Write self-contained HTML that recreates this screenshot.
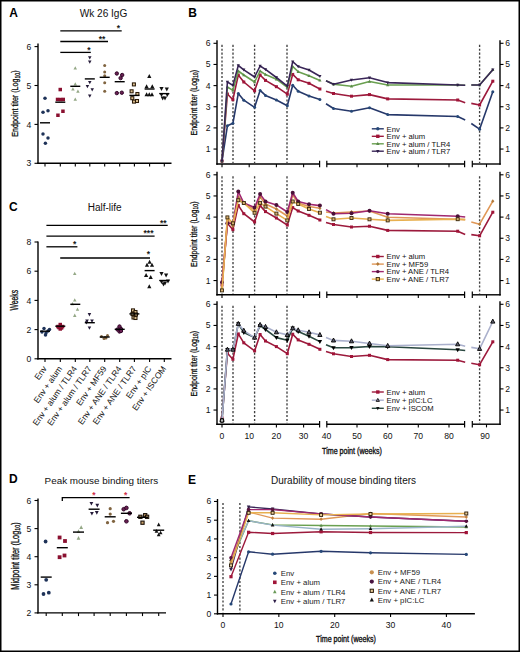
<!DOCTYPE html><html><head><meta charset="utf-8"><style>html,body{margin:0;padding:0;background:#fff;overflow:hidden;}svg{display:block;}text{font-family:"Liberation Sans",sans-serif;}</style></head><body>
<svg width="520" height="652" viewBox="0 0 520 652">
<rect x="0" y="0" width="520" height="652" fill="#fff"/>
<rect x="0.75" y="0.75" width="518.5" height="650.5" fill="none" stroke="#000" stroke-width="1.5"/>
<text x="9.3" y="16.8" font-size="12" text-anchor="start" font-weight="bold" fill="#000" >A</text>
<text x="103.5" y="17.2" font-size="10.1" text-anchor="middle" font-weight="normal" fill="#111" >Wk 26 IgG</text>
<line x1="38" y1="43.5" x2="38" y2="164.0" stroke="#000" stroke-width="1.4"/>
<line x1="37.3" y1="163.3" x2="171.5" y2="163.3" stroke="#000" stroke-width="1.4"/>
<line x1="34.5" y1="163.3" x2="38" y2="163.3" stroke="#000" stroke-width="1.1"/>
<text x="31.4" y="166.4" font-size="8.6" text-anchor="end" font-weight="normal" fill="#111" >3</text>
<line x1="34.5" y1="124.4" x2="38" y2="124.4" stroke="#000" stroke-width="1.1"/>
<text x="31.4" y="127.5" font-size="8.6" text-anchor="end" font-weight="normal" fill="#111" >4</text>
<line x1="34.5" y1="85.50000000000001" x2="38" y2="85.50000000000001" stroke="#000" stroke-width="1.1"/>
<text x="31.4" y="88.60000000000001" font-size="8.6" text-anchor="end" font-weight="normal" fill="#111" >5</text>
<line x1="34.5" y1="46.60000000000002" x2="38" y2="46.60000000000002" stroke="#000" stroke-width="1.1"/>
<text x="31.4" y="49.700000000000024" font-size="8.6" text-anchor="end" font-weight="normal" fill="#111" >6</text>
<line x1="45" y1="163.3" x2="45" y2="166.5" stroke="#000" stroke-width="1.1"/>
<line x1="60.3" y1="163.3" x2="60.3" y2="166.5" stroke="#000" stroke-width="1.1"/>
<line x1="75.3" y1="163.3" x2="75.3" y2="166.5" stroke="#000" stroke-width="1.1"/>
<line x1="89.8" y1="163.3" x2="89.8" y2="166.5" stroke="#000" stroke-width="1.1"/>
<line x1="104.7" y1="163.3" x2="104.7" y2="166.5" stroke="#000" stroke-width="1.1"/>
<line x1="119.7" y1="163.3" x2="119.7" y2="166.5" stroke="#000" stroke-width="1.1"/>
<line x1="134.4" y1="163.3" x2="134.4" y2="166.5" stroke="#000" stroke-width="1.1"/>
<line x1="149.6" y1="163.3" x2="149.6" y2="166.5" stroke="#000" stroke-width="1.1"/>
<line x1="164.3" y1="163.3" x2="164.3" y2="166.5" stroke="#000" stroke-width="1.1"/>
<text transform="translate(18.4,103.5) rotate(-90) scale(0.75,1)" font-size="9.5" text-anchor="middle" fill="#111" stroke="#111" stroke-width="0.3">Endpoint titer (Log<tspan font-size="7" dy="1.7">10</tspan><tspan dy="-1.7">)</tspan></text>
<line x1="60.3" y1="30.8" x2="121.7" y2="30.8" stroke="#000" stroke-width="1.3"/>
<text x="118.5" y="31" font-size="8.5" text-anchor="middle" font-weight="bold" fill="#1a1a1a" >*</text>
<line x1="60.3" y1="41.5" x2="108" y2="41.5" stroke="#000" stroke-width="1.3"/>
<text x="102" y="41.8" font-size="8.5" text-anchor="middle" font-weight="bold" fill="#1a1a1a" >**</text>
<line x1="60.3" y1="52.4" x2="90.8" y2="52.4" stroke="#000" stroke-width="1.3"/>
<text x="89" y="52.6" font-size="8.5" text-anchor="middle" font-weight="bold" fill="#1a1a1a" >*</text>
<circle cx="45.0" cy="98.2" r="1.75" fill="#1e3258"/>
<circle cx="43.0" cy="112.2" r="1.75" fill="#1e3258"/>
<circle cx="48.0" cy="110.8" r="1.75" fill="#1e3258"/>
<circle cx="43.0" cy="134.1" r="1.75" fill="#1e3258"/>
<circle cx="48.0" cy="138.1" r="1.75" fill="#1e3258"/>
<circle cx="45.4" cy="143.3" r="1.75" fill="#1e3258"/>
<line x1="40" y1="122.8" x2="50" y2="122.8" stroke="#000" stroke-width="1.4"/>
<rect x="58.5" y="87.8" width="3.5" height="3.5" fill="#8a1030"/>
<rect x="55.8" y="97.7" width="3.5" height="3.5" fill="#8a1030"/>
<rect x="58.8" y="97.8" width="3.5" height="3.5" fill="#8a1030"/>
<rect x="61.5" y="97.7" width="3.5" height="3.5" fill="#8a1030"/>
<rect x="56.2" y="113.5" width="3.5" height="3.5" fill="#8a1030"/>
<rect x="61.2" y="109.5" width="3.5" height="3.5" fill="#8a1030"/>
<line x1="55.3" y1="102.2" x2="65.3" y2="102.2" stroke="#000" stroke-width="1.4"/>
<polygon points="75.3,66.3 77.0,69.6 73.5,69.6" fill="#94a886"/>
<polygon points="72.9,87.3 74.7,90.6 71.2,90.6" fill="#94a886"/>
<polygon points="77.9,89.4 79.7,92.7 76.2,92.7" fill="#94a886"/>
<polygon points="75.3,97.4 77.0,100.7 73.5,100.7" fill="#94a886"/>
<polygon points="75.3,82.3 77.0,85.6 73.5,85.6" fill="#94a886"/>
<line x1="70.3" y1="86.3" x2="80.3" y2="86.3" stroke="#000" stroke-width="1.4"/>
<polygon points="89.8,59.5 91.5,56.2 88.0,56.2" fill="#241a38"/>
<polygon points="89.8,63.8 91.5,60.5 88.0,60.5" fill="#241a38"/>
<polygon points="89.8,84.3 91.5,81.0 88.0,81.0" fill="#241a38"/>
<polygon points="87.4,88.3 89.2,85.0 85.7,85.0" fill="#241a38"/>
<polygon points="92.2,91.5 94.0,88.2 90.5,88.2" fill="#241a38"/>
<polygon points="89.8,97.8 91.5,94.5 88.0,94.5" fill="#241a38"/>
<line x1="84.8" y1="78.9" x2="94.8" y2="78.9" stroke="#000" stroke-width="1.4"/>
<circle cx="104.7" cy="65.5" r="1.5" fill="#806440"/>
<circle cx="104.7" cy="71.9" r="1.5" fill="#806440"/>
<circle cx="104.7" cy="82.7" r="1.5" fill="#806440"/>
<circle cx="104.7" cy="91.2" r="1.5" fill="#806440"/>
<circle cx="104.7" cy="75.8" r="1.5" fill="#806440"/>
<line x1="99.7" y1="77.3" x2="109.7" y2="77.3" stroke="#000" stroke-width="1.4"/>
<circle cx="116.8" cy="73.5" r="1.7" fill="#6a2052" stroke="#32082a" stroke-width="1.0"/>
<circle cx="122.2" cy="75.0" r="1.7" fill="#6a2052" stroke="#32082a" stroke-width="1.0"/>
<circle cx="120.6" cy="78.1" r="1.7" fill="#6a2052" stroke="#32082a" stroke-width="1.0"/>
<circle cx="116.8" cy="93.1" r="1.7" fill="#6a2052" stroke="#32082a" stroke-width="1.0"/>
<circle cx="121.8" cy="92.7" r="1.7" fill="#6a2052" stroke="#32082a" stroke-width="1.0"/>
<line x1="114.7" y1="81.7" x2="124.7" y2="81.7" stroke="#000" stroke-width="1.4"/>
<rect x="132.4" y="82.9" width="3.0" height="3.0" fill="#dcc090" stroke="#2a1a08" stroke-width="1.05"/>
<rect x="130.1" y="89.8" width="3.0" height="3.0" fill="#dcc090" stroke="#2a1a08" stroke-width="1.05"/>
<rect x="135.9" y="92.5" width="3.0" height="3.0" fill="#dcc090" stroke="#2a1a08" stroke-width="1.05"/>
<rect x="130.8" y="96.7" width="3.0" height="3.0" fill="#dcc090" stroke="#2a1a08" stroke-width="1.05"/>
<rect x="132.5" y="100.1" width="3.0" height="3.0" fill="#dcc090" stroke="#2a1a08" stroke-width="1.05"/>
<rect x="135.5" y="99.5" width="3.0" height="3.0" fill="#dcc090" stroke="#2a1a08" stroke-width="1.05"/>
<line x1="129.4" y1="95.4" x2="139.4" y2="95.4" stroke="#000" stroke-width="1.4"/>
<polygon points="149.3,73.9 151.4,77.9 147.2,77.9" fill="#111111"/>
<polygon points="146.6,84.3 148.7,88.3 144.5,88.3" fill="#111111"/>
<polygon points="152.3,84.3 154.4,88.3 150.2,88.3" fill="#111111"/>
<polygon points="146.6,92.3 148.7,96.3 144.5,96.3" fill="#111111"/>
<polygon points="149.3,92.3 151.4,96.3 147.2,96.3" fill="#111111"/>
<polygon points="152.0,92.3 154.1,96.3 149.9,96.3" fill="#111111"/>
<line x1="144.6" y1="89" x2="154.6" y2="89" stroke="#000" stroke-width="1.4"/>
<polygon points="161.5,90.9 163.6,86.9 159.4,86.9" fill="#111111"/>
<polygon points="166.8,91.4 168.9,87.4 164.7,87.4" fill="#111111"/>
<polygon points="161.5,97.1 163.6,93.1 159.4,93.1" fill="#111111"/>
<polygon points="165.0,100.6 167.1,96.6 162.9,96.6" fill="#111111"/>
<polygon points="162.7,100.6 164.8,96.6 160.6,96.6" fill="#111111"/>
<polygon points="167.3,97.1 169.4,93.1 165.2,93.1" fill="#111111"/>
<line x1="159.3" y1="93.6" x2="169.3" y2="93.6" stroke="#000" stroke-width="1.4"/>
<text x="9" y="211" font-size="12" text-anchor="start" font-weight="bold" fill="#000" >C</text>
<text x="104.7" y="211.1" font-size="10" text-anchor="middle" font-weight="normal" fill="#111" >Half-life</text>
<line x1="38" y1="241.5" x2="38" y2="359.5" stroke="#000" stroke-width="1.4"/>
<line x1="37.3" y1="358.8" x2="171.5" y2="358.8" stroke="#000" stroke-width="1.4"/>
<line x1="34.5" y1="358.8" x2="38" y2="358.8" stroke="#000" stroke-width="1.1"/>
<text x="31.4" y="361.90000000000003" font-size="8.6" text-anchor="end" font-weight="normal" fill="#111" >0</text>
<line x1="34.5" y1="329.6" x2="38" y2="329.6" stroke="#000" stroke-width="1.1"/>
<text x="31.4" y="332.70000000000005" font-size="8.6" text-anchor="end" font-weight="normal" fill="#111" >2</text>
<line x1="34.5" y1="300.40000000000003" x2="38" y2="300.40000000000003" stroke="#000" stroke-width="1.1"/>
<text x="31.4" y="303.50000000000006" font-size="8.6" text-anchor="end" font-weight="normal" fill="#111" >4</text>
<line x1="34.5" y1="271.20000000000005" x2="38" y2="271.20000000000005" stroke="#000" stroke-width="1.1"/>
<text x="31.4" y="274.30000000000007" font-size="8.6" text-anchor="end" font-weight="normal" fill="#111" >6</text>
<line x1="34.5" y1="242.0" x2="38" y2="242.0" stroke="#000" stroke-width="1.1"/>
<text x="31.4" y="245.1" font-size="8.6" text-anchor="end" font-weight="normal" fill="#111" >8</text>
<line x1="45" y1="358.8" x2="45" y2="362.0" stroke="#000" stroke-width="1.1"/>
<line x1="60.3" y1="358.8" x2="60.3" y2="362.0" stroke="#000" stroke-width="1.1"/>
<line x1="75.3" y1="358.8" x2="75.3" y2="362.0" stroke="#000" stroke-width="1.1"/>
<line x1="89.8" y1="358.8" x2="89.8" y2="362.0" stroke="#000" stroke-width="1.1"/>
<line x1="104.7" y1="358.8" x2="104.7" y2="362.0" stroke="#000" stroke-width="1.1"/>
<line x1="119.7" y1="358.8" x2="119.7" y2="362.0" stroke="#000" stroke-width="1.1"/>
<line x1="134.4" y1="358.8" x2="134.4" y2="362.0" stroke="#000" stroke-width="1.1"/>
<line x1="149.6" y1="358.8" x2="149.6" y2="362.0" stroke="#000" stroke-width="1.1"/>
<line x1="164.3" y1="358.8" x2="164.3" y2="362.0" stroke="#000" stroke-width="1.1"/>
<text transform="translate(18.3,300.2) rotate(-90) scale(0.68,1)" font-size="10" text-anchor="middle" fill="#111" stroke="#111" stroke-width="0.3">Weeks</text>
<line x1="46.4" y1="225.3" x2="167.7" y2="225.3" stroke="#000" stroke-width="1.3"/>
<text x="163.3" y="225.6" font-size="8.5" text-anchor="middle" font-weight="bold" fill="#1a1a1a" >**</text>
<line x1="46.4" y1="236.1" x2="154.6" y2="236.1" stroke="#000" stroke-width="1.3"/>
<text x="148.5" y="236.4" font-size="8.5" text-anchor="middle" font-weight="bold" fill="#1a1a1a" >***</text>
<line x1="46.4" y1="246.8" x2="77.4" y2="246.8" stroke="#000" stroke-width="1.3"/>
<text x="74.7" y="246.6" font-size="8.5" text-anchor="middle" font-weight="bold" fill="#1a1a1a" >*</text>
<line x1="60.2" y1="258" x2="150" y2="258" stroke="#000" stroke-width="1.3"/>
<text x="148.4" y="257.2" font-size="8.5" text-anchor="middle" font-weight="bold" fill="#1a1a1a" >*</text>
<circle cx="44.0" cy="328.5" r="1.75" fill="#1e3258"/>
<circle cx="48.0" cy="331.0" r="1.75" fill="#1e3258"/>
<circle cx="42.0" cy="332.0" r="1.75" fill="#1e3258"/>
<circle cx="45.5" cy="335.0" r="1.75" fill="#1e3258"/>
<circle cx="49.5" cy="329.5" r="1.75" fill="#1e3258"/>
<circle cx="46.0" cy="333.0" r="1.75" fill="#1e3258"/>
<line x1="40" y1="331.2" x2="50" y2="331.2" stroke="#000" stroke-width="1.4"/>
<rect x="58.5" y="322.8" width="3.5" height="3.5" fill="#8a1030"/>
<rect x="56.2" y="324.8" width="3.5" height="3.5" fill="#8a1030"/>
<rect x="60.8" y="324.8" width="3.5" height="3.5" fill="#8a1030"/>
<rect x="58.5" y="327.2" width="3.5" height="3.5" fill="#8a1030"/>
<rect x="57.2" y="325.8" width="3.5" height="3.5" fill="#8a1030"/>
<rect x="59.8" y="326.2" width="3.5" height="3.5" fill="#8a1030"/>
<line x1="55.3" y1="326.2" x2="65.3" y2="326.2" stroke="#000" stroke-width="1.4"/>
<polygon points="74.7,271.7 76.5,275.0 73.0,275.0" fill="#94a886"/>
<polygon points="74.7,298.2 76.5,301.5 73.0,301.5" fill="#94a886"/>
<polygon points="77.5,307.4 79.2,310.7 75.8,310.7" fill="#94a886"/>
<polygon points="74.7,313.6 76.5,316.9 73.0,316.9" fill="#94a886"/>
<polygon points="72.5,302.0 74.2,305.3 70.8,305.3" fill="#94a886"/>
<line x1="70.3" y1="304.3" x2="80.3" y2="304.3" stroke="#000" stroke-width="1.4"/>
<polygon points="89.4,316.4 91.2,313.1 87.7,313.1" fill="#241a38"/>
<polygon points="87.0,322.9 88.8,319.6 85.2,319.6" fill="#241a38"/>
<polygon points="92.0,322.9 93.8,319.6 90.2,319.6" fill="#241a38"/>
<polygon points="89.4,329.8 91.2,326.5 87.7,326.5" fill="#241a38"/>
<polygon points="86.5,324.5 88.2,321.2 84.8,321.2" fill="#241a38"/>
<line x1="84.8" y1="322.7" x2="94.8" y2="322.7" stroke="#000" stroke-width="1.4"/>
<circle cx="101.5" cy="336.5" r="1.5" fill="#806440"/>
<circle cx="105.0" cy="337.5" r="1.5" fill="#806440"/>
<circle cx="107.5" cy="335.5" r="1.5" fill="#806440"/>
<circle cx="104.0" cy="338.5" r="1.5" fill="#806440"/>
<circle cx="106.0" cy="338.0" r="1.5" fill="#806440"/>
<line x1="99.7" y1="337" x2="109.7" y2="337" stroke="#000" stroke-width="1.4"/>
<circle cx="117.5" cy="329.5" r="1.7" fill="#6a2052" stroke="#32082a" stroke-width="1.0"/>
<circle cx="121.0" cy="329.0" r="1.7" fill="#6a2052" stroke="#32082a" stroke-width="1.0"/>
<circle cx="119.5" cy="326.5" r="1.7" fill="#6a2052" stroke="#32082a" stroke-width="1.0"/>
<circle cx="119.5" cy="331.5" r="1.7" fill="#6a2052" stroke="#32082a" stroke-width="1.0"/>
<circle cx="121.0" cy="331.0" r="1.7" fill="#6a2052" stroke="#32082a" stroke-width="1.0"/>
<line x1="114.7" y1="329.3" x2="124.7" y2="329.3" stroke="#000" stroke-width="1.4"/>
<rect x="131.5" y="308.9" width="3.0" height="3.0" fill="#dcc090" stroke="#2a1a08" stroke-width="1.05"/>
<rect x="134.0" y="310.5" width="3.0" height="3.0" fill="#dcc090" stroke="#2a1a08" stroke-width="1.05"/>
<rect x="131.0" y="312.5" width="3.0" height="3.0" fill="#dcc090" stroke="#2a1a08" stroke-width="1.05"/>
<rect x="134.5" y="313.0" width="3.0" height="3.0" fill="#dcc090" stroke="#2a1a08" stroke-width="1.05"/>
<rect x="132.0" y="316.0" width="3.0" height="3.0" fill="#dcc090" stroke="#2a1a08" stroke-width="1.05"/>
<rect x="134.0" y="316.5" width="3.0" height="3.0" fill="#dcc090" stroke="#2a1a08" stroke-width="1.05"/>
<line x1="129.4" y1="313.9" x2="139.4" y2="313.9" stroke="#000" stroke-width="1.4"/>
<polygon points="149.6,259.7 151.7,263.7 147.5,263.7" fill="#111111"/>
<polygon points="147.0,262.7 149.1,266.7 144.9,266.7" fill="#111111"/>
<polygon points="152.0,262.7 154.1,266.7 149.9,266.7" fill="#111111"/>
<polygon points="146.1,273.1 148.2,277.1 144.0,277.1" fill="#111111"/>
<polygon points="150.7,275.1 152.8,279.1 148.6,279.1" fill="#111111"/>
<polygon points="149.3,284.3 151.4,288.3 147.2,288.3" fill="#111111"/>
<line x1="144.6" y1="270.6" x2="154.6" y2="270.6" stroke="#000" stroke-width="1.4"/>
<polygon points="161.5,276.0 163.6,272.0 159.4,272.0" fill="#111111"/>
<polygon points="166.1,277.6 168.2,273.6 164.0,273.6" fill="#111111"/>
<polygon points="161.5,284.1 163.6,280.1 159.4,280.1" fill="#111111"/>
<polygon points="165.0,285.4 167.1,281.4 162.9,281.4" fill="#111111"/>
<polygon points="168.0,283.4 170.1,279.4 165.9,279.4" fill="#111111"/>
<polygon points="163.5,286.4 165.6,282.4 161.4,282.4" fill="#111111"/>
<line x1="159.3" y1="280.5" x2="169.3" y2="280.5" stroke="#000" stroke-width="1.4"/>
<text transform="translate(47.2,368.6) rotate(-55)" font-size="8.5" text-anchor="end" fill="#111">Env</text>
<text transform="translate(62.5,368.6) rotate(-55)" font-size="8.5" text-anchor="end" fill="#111">Env + alum</text>
<text transform="translate(77.5,368.6) rotate(-55)" font-size="8.5" text-anchor="end" fill="#111">Env + alum / TLR4</text>
<text transform="translate(92.0,368.6) rotate(-55)" font-size="8.5" text-anchor="end" fill="#111">Env + alum / TLR7</text>
<text transform="translate(106.9,368.6) rotate(-55)" font-size="8.5" text-anchor="end" fill="#111">Env + MF59</text>
<text transform="translate(121.9,368.6) rotate(-55)" font-size="8.5" text-anchor="end" fill="#111">Env + ANE / TLR4</text>
<text transform="translate(136.6,368.6) rotate(-55)" font-size="8.5" text-anchor="end" fill="#111">Env + ANE / TLR7</text>
<text transform="translate(151.79999999999998,368.6) rotate(-55)" font-size="8.5" text-anchor="end" fill="#111">Env + pIC</text>
<text transform="translate(166.5,368.6) rotate(-55)" font-size="8.5" text-anchor="end" fill="#111">Env + ISCOM</text>
<text x="9" y="483.3" font-size="12" text-anchor="start" font-weight="bold" fill="#000" >D</text>
<text x="101.4" y="483.5" font-size="9.9" text-anchor="middle" font-weight="normal" fill="#111" >Peak mouse binding titers</text>
<line x1="38" y1="498.5" x2="38" y2="613.6" stroke="#000" stroke-width="1.4"/>
<line x1="37.3" y1="612.9" x2="166" y2="612.9" stroke="#000" stroke-width="1.4"/>
<line x1="34.5" y1="612.9" x2="38" y2="612.9" stroke="#000" stroke-width="1.1"/>
<text x="31.4" y="616.0" font-size="8.6" text-anchor="end" font-weight="normal" fill="#111" >2</text>
<line x1="34.5" y1="584.8" x2="38" y2="584.8" stroke="#000" stroke-width="1.1"/>
<text x="31.4" y="587.9" font-size="8.6" text-anchor="end" font-weight="normal" fill="#111" >3</text>
<line x1="34.5" y1="556.6999999999999" x2="38" y2="556.6999999999999" stroke="#000" stroke-width="1.1"/>
<text x="31.4" y="559.8" font-size="8.6" text-anchor="end" font-weight="normal" fill="#111" >4</text>
<line x1="34.5" y1="528.5999999999999" x2="38" y2="528.5999999999999" stroke="#000" stroke-width="1.1"/>
<text x="31.4" y="531.6999999999999" font-size="8.6" text-anchor="end" font-weight="normal" fill="#111" >5</text>
<line x1="34.5" y1="500.5" x2="38" y2="500.5" stroke="#000" stroke-width="1.1"/>
<text x="31.4" y="503.6" font-size="8.6" text-anchor="end" font-weight="normal" fill="#111" >6</text>
<line x1="46.2" y1="612.9" x2="46.2" y2="616.1" stroke="#000" stroke-width="1.1"/>
<line x1="62.3" y1="612.9" x2="62.3" y2="616.1" stroke="#000" stroke-width="1.1"/>
<line x1="78.5" y1="612.9" x2="78.5" y2="616.1" stroke="#000" stroke-width="1.1"/>
<line x1="94.1" y1="612.9" x2="94.1" y2="616.1" stroke="#000" stroke-width="1.1"/>
<line x1="110.2" y1="612.9" x2="110.2" y2="616.1" stroke="#000" stroke-width="1.1"/>
<line x1="126.4" y1="612.9" x2="126.4" y2="616.1" stroke="#000" stroke-width="1.1"/>
<line x1="142.5" y1="612.9" x2="142.5" y2="616.1" stroke="#000" stroke-width="1.1"/>
<line x1="158.7" y1="612.9" x2="158.7" y2="616.1" stroke="#000" stroke-width="1.1"/>
<text transform="translate(18.6,556) rotate(-90) scale(0.71,1)" font-size="10.4" text-anchor="middle" fill="#111" stroke="#111" stroke-width="0.3">Midpoint titer (Log<tspan font-size="7.5" dy="1.8">10</tspan><tspan dy="-1.8">)</tspan></text>
<polyline points="62.3,501 62.3,497.7 129.6,497.7" fill="none" stroke="#000" stroke-width="1.3"/>
<text x="93.8" y="497.8" font-size="8.5" text-anchor="middle" font-weight="bold" fill="#d0304a" >*</text>
<text x="125.6" y="497.8" font-size="8.5" text-anchor="middle" font-weight="bold" fill="#d0304a" >*</text>
<circle cx="45.6" cy="541.5" r="1.9" fill="#1e3258"/>
<circle cx="46.2" cy="579.8" r="1.9" fill="#1e3258"/>
<circle cx="43.5" cy="594.0" r="1.9" fill="#1e3258"/>
<circle cx="48.8" cy="592.7" r="1.9" fill="#1e3258"/>
<line x1="40.7" y1="577.1" x2="51.7" y2="577.1" stroke="#000" stroke-width="1.4"/>
<rect x="57.7" y="535.6" width="3.8" height="3.8" fill="#8a1030"/>
<rect x="63.1" y="539.1" width="3.8" height="3.8" fill="#8a1030"/>
<rect x="57.7" y="555.3" width="3.8" height="3.8" fill="#8a1030"/>
<rect x="62.6" y="553.6" width="3.8" height="3.8" fill="#8a1030"/>
<line x1="56.8" y1="547.7" x2="67.8" y2="547.7" stroke="#000" stroke-width="1.4"/>
<polygon points="81.2,525.3 83.1,528.9 79.3,528.9" fill="#94a886"/>
<polygon points="78.5,536.1 80.4,539.7 76.6,539.7" fill="#94a886"/>
<polygon points="78.5,529.3 80.4,532.9 76.6,532.9" fill="#94a886"/>
<line x1="73.0" y1="532.1" x2="84.0" y2="532.1" stroke="#000" stroke-width="1.4"/>
<polygon points="91.4,505.5 93.3,501.9 89.5,501.9" fill="#241a38"/>
<polygon points="97.3,507.4 99.2,503.8 95.4,503.8" fill="#241a38"/>
<polygon points="91.9,515.5 93.8,511.9 90.0,511.9" fill="#241a38"/>
<polygon points="96.8,514.7 98.7,511.1 94.9,511.1" fill="#241a38"/>
<line x1="88.6" y1="509.2" x2="99.6" y2="509.2" stroke="#000" stroke-width="1.4"/>
<circle cx="110.2" cy="508.7" r="1.6" fill="#806440"/>
<circle cx="110.2" cy="514.1" r="1.6" fill="#806440"/>
<circle cx="107.5" cy="522.7" r="1.6" fill="#806440"/>
<circle cx="113.5" cy="521.3" r="1.6" fill="#806440"/>
<line x1="104.7" y1="516.8" x2="115.7" y2="516.8" stroke="#000" stroke-width="1.4"/>
<circle cx="123.7" cy="509.2" r="1.8" fill="#6a2052" stroke="#32082a" stroke-width="1.0"/>
<circle cx="126.4" cy="507.9" r="1.8" fill="#6a2052" stroke="#32082a" stroke-width="1.0"/>
<circle cx="129.6" cy="513.3" r="1.8" fill="#6a2052" stroke="#32082a" stroke-width="1.0"/>
<circle cx="126.4" cy="521.3" r="1.8" fill="#6a2052" stroke="#32082a" stroke-width="1.0"/>
<line x1="120.9" y1="513.3" x2="131.9" y2="513.3" stroke="#000" stroke-width="1.4"/>
<rect x="138.8" y="515.2" width="3.2" height="3.2" fill="#c8a068" stroke="#1a1008" stroke-width="1.1"/>
<rect x="143.6" y="513.6" width="3.2" height="3.2" fill="#c8a068" stroke="#1a1008" stroke-width="1.1"/>
<rect x="140.9" y="521.1" width="3.2" height="3.2" fill="#c8a068" stroke="#1a1008" stroke-width="1.1"/>
<rect x="145.5" y="515.2" width="3.2" height="3.2" fill="#c8a068" stroke="#1a1008" stroke-width="1.1"/>
<line x1="137.0" y1="517.3" x2="148.0" y2="517.3" stroke="#000" stroke-width="1.4"/>
<polygon points="158.7,522.6 160.6,526.2 156.8,526.2" fill="#111111"/>
<polygon points="156.5,529.1 158.4,532.7 154.6,532.7" fill="#111111"/>
<polygon points="160.6,530.7 162.5,534.3 158.7,534.3" fill="#111111"/>
<polygon points="158.7,532.6 160.6,536.2 156.8,536.2" fill="#111111"/>
<line x1="153.2" y1="530.2" x2="164.2" y2="530.2" stroke="#000" stroke-width="1.4"/>
<text x="188.3" y="17.2" font-size="12" text-anchor="start" font-weight="bold" fill="#000" >B</text>
<line x1="217" y1="40.3" x2="217" y2="164.7" stroke="#000" stroke-width="1.4"/>
<line x1="500" y1="40.3" x2="500" y2="164.7" stroke="#000" stroke-width="1.4"/>
<line x1="213.5" y1="149.05" x2="217" y2="149.05" stroke="#000" stroke-width="1.1"/>
<text x="210.5" y="152.05" font-size="8.6" text-anchor="end" font-weight="normal" fill="#111" >1</text>
<line x1="500" y1="149.05" x2="503.5" y2="149.05" stroke="#000" stroke-width="1.1"/>
<text x="505.3" y="152.05" font-size="8.6" text-anchor="start" font-weight="normal" fill="#111" >1</text>
<line x1="213.5" y1="127.89999999999999" x2="217" y2="127.89999999999999" stroke="#000" stroke-width="1.1"/>
<text x="210.5" y="130.89999999999998" font-size="8.6" text-anchor="end" font-weight="normal" fill="#111" >2</text>
<line x1="500" y1="127.89999999999999" x2="503.5" y2="127.89999999999999" stroke="#000" stroke-width="1.1"/>
<text x="505.3" y="130.89999999999998" font-size="8.6" text-anchor="start" font-weight="normal" fill="#111" >2</text>
<line x1="213.5" y1="106.75" x2="217" y2="106.75" stroke="#000" stroke-width="1.1"/>
<text x="210.5" y="109.75" font-size="8.6" text-anchor="end" font-weight="normal" fill="#111" >3</text>
<line x1="500" y1="106.75" x2="503.5" y2="106.75" stroke="#000" stroke-width="1.1"/>
<text x="505.3" y="109.75" font-size="8.6" text-anchor="start" font-weight="normal" fill="#111" >3</text>
<line x1="213.5" y1="85.6" x2="217" y2="85.6" stroke="#000" stroke-width="1.1"/>
<text x="210.5" y="88.6" font-size="8.6" text-anchor="end" font-weight="normal" fill="#111" >4</text>
<line x1="500" y1="85.6" x2="503.5" y2="85.6" stroke="#000" stroke-width="1.1"/>
<text x="505.3" y="88.6" font-size="8.6" text-anchor="start" font-weight="normal" fill="#111" >4</text>
<line x1="213.5" y1="64.44999999999999" x2="217" y2="64.44999999999999" stroke="#000" stroke-width="1.1"/>
<text x="210.5" y="67.44999999999999" font-size="8.6" text-anchor="end" font-weight="normal" fill="#111" >5</text>
<line x1="500" y1="64.44999999999999" x2="503.5" y2="64.44999999999999" stroke="#000" stroke-width="1.1"/>
<text x="505.3" y="67.44999999999999" font-size="8.6" text-anchor="start" font-weight="normal" fill="#111" >5</text>
<line x1="213.5" y1="43.3" x2="217" y2="43.3" stroke="#000" stroke-width="1.1"/>
<text x="210.5" y="46.3" font-size="8.6" text-anchor="end" font-weight="normal" fill="#111" >6</text>
<line x1="500" y1="43.3" x2="503.5" y2="43.3" stroke="#000" stroke-width="1.1"/>
<text x="505.3" y="46.3" font-size="8.6" text-anchor="start" font-weight="normal" fill="#111" >6</text>
<line x1="216.3" y1="164.0" x2="319.6" y2="164.0" stroke="#000" stroke-width="1.4"/>
<line x1="326.8" y1="164.0" x2="464.6" y2="164.0" stroke="#000" stroke-width="1.4"/>
<line x1="472.3" y1="164.0" x2="500.7" y2="164.0" stroke="#000" stroke-width="1.4"/>
<line x1="319.6" y1="160.8" x2="319.6" y2="167.2" stroke="#000" stroke-width="1.2"/>
<line x1="326.8" y1="160.8" x2="326.8" y2="167.2" stroke="#000" stroke-width="1.2"/>
<line x1="464.6" y1="160.8" x2="464.6" y2="167.2" stroke="#000" stroke-width="1.2"/>
<line x1="472.3" y1="160.8" x2="472.3" y2="167.2" stroke="#000" stroke-width="1.2"/>
<line x1="222" y1="164.0" x2="222" y2="167.2" stroke="#000" stroke-width="1.1"/>
<line x1="249.2" y1="164.0" x2="249.2" y2="167.2" stroke="#000" stroke-width="1.1"/>
<line x1="276.4" y1="164.0" x2="276.4" y2="167.2" stroke="#000" stroke-width="1.1"/>
<line x1="303.6" y1="164.0" x2="303.6" y2="167.2" stroke="#000" stroke-width="1.1"/>
<line x1="357" y1="164.0" x2="357" y2="167.2" stroke="#000" stroke-width="1.1"/>
<line x1="387.7" y1="164.0" x2="387.7" y2="167.2" stroke="#000" stroke-width="1.1"/>
<line x1="418.3" y1="164.0" x2="418.3" y2="167.2" stroke="#000" stroke-width="1.1"/>
<line x1="449" y1="164.0" x2="449" y2="167.2" stroke="#000" stroke-width="1.1"/>
<line x1="486.5" y1="164.0" x2="486.5" y2="167.2" stroke="#000" stroke-width="1.1"/>
<line x1="222" y1="44.8" x2="222" y2="163.0" stroke="#404040" stroke-width="1.35" stroke-dasharray="2.1,1.8"/>
<line x1="233" y1="44.8" x2="233" y2="163.0" stroke="#404040" stroke-width="1.35" stroke-dasharray="2.1,1.8"/>
<line x1="254.6" y1="44.8" x2="254.6" y2="163.0" stroke="#404040" stroke-width="1.35" stroke-dasharray="2.1,1.8"/>
<line x1="287" y1="44.8" x2="287" y2="163.0" stroke="#404040" stroke-width="1.35" stroke-dasharray="2.1,1.8"/>
<line x1="479.6" y1="44.8" x2="479.6" y2="163.0" stroke="#404040" stroke-width="1.35" stroke-dasharray="2.1,1.8"/>
<text transform="translate(196.6,102.69999999999999) rotate(-90) scale(0.765,1)" font-size="9.2" text-anchor="middle" fill="#111" stroke="#111" stroke-width="0.3">Endpoint titer (Log<tspan font-size="6.8" dy="1.6">10</tspan><tspan dy="-1.6">)</tspan></text>
<line x1="217" y1="171.8" x2="217" y2="295.5" stroke="#000" stroke-width="1.4"/>
<line x1="500" y1="171.8" x2="500" y2="295.5" stroke="#000" stroke-width="1.4"/>
<line x1="213.5" y1="280.55" x2="217" y2="280.55" stroke="#000" stroke-width="1.1"/>
<text x="210.5" y="283.55" font-size="8.6" text-anchor="end" font-weight="normal" fill="#111" >1</text>
<line x1="500" y1="280.55" x2="503.5" y2="280.55" stroke="#000" stroke-width="1.1"/>
<text x="505.3" y="283.55" font-size="8.6" text-anchor="start" font-weight="normal" fill="#111" >1</text>
<line x1="213.5" y1="259.4" x2="217" y2="259.4" stroke="#000" stroke-width="1.1"/>
<text x="210.5" y="262.4" font-size="8.6" text-anchor="end" font-weight="normal" fill="#111" >2</text>
<line x1="500" y1="259.4" x2="503.5" y2="259.4" stroke="#000" stroke-width="1.1"/>
<text x="505.3" y="262.4" font-size="8.6" text-anchor="start" font-weight="normal" fill="#111" >2</text>
<line x1="213.5" y1="238.25" x2="217" y2="238.25" stroke="#000" stroke-width="1.1"/>
<text x="210.5" y="241.25" font-size="8.6" text-anchor="end" font-weight="normal" fill="#111" >3</text>
<line x1="500" y1="238.25" x2="503.5" y2="238.25" stroke="#000" stroke-width="1.1"/>
<text x="505.3" y="241.25" font-size="8.6" text-anchor="start" font-weight="normal" fill="#111" >3</text>
<line x1="213.5" y1="217.10000000000002" x2="217" y2="217.10000000000002" stroke="#000" stroke-width="1.1"/>
<text x="210.5" y="220.10000000000002" font-size="8.6" text-anchor="end" font-weight="normal" fill="#111" >4</text>
<line x1="500" y1="217.10000000000002" x2="503.5" y2="217.10000000000002" stroke="#000" stroke-width="1.1"/>
<text x="505.3" y="220.10000000000002" font-size="8.6" text-anchor="start" font-weight="normal" fill="#111" >4</text>
<line x1="213.5" y1="195.95000000000002" x2="217" y2="195.95000000000002" stroke="#000" stroke-width="1.1"/>
<text x="210.5" y="198.95000000000002" font-size="8.6" text-anchor="end" font-weight="normal" fill="#111" >5</text>
<line x1="500" y1="195.95000000000002" x2="503.5" y2="195.95000000000002" stroke="#000" stroke-width="1.1"/>
<text x="505.3" y="198.95000000000002" font-size="8.6" text-anchor="start" font-weight="normal" fill="#111" >5</text>
<line x1="213.5" y1="174.8" x2="217" y2="174.8" stroke="#000" stroke-width="1.1"/>
<text x="210.5" y="177.8" font-size="8.6" text-anchor="end" font-weight="normal" fill="#111" >6</text>
<line x1="500" y1="174.8" x2="503.5" y2="174.8" stroke="#000" stroke-width="1.1"/>
<text x="505.3" y="177.8" font-size="8.6" text-anchor="start" font-weight="normal" fill="#111" >6</text>
<line x1="216.3" y1="294.8" x2="319.6" y2="294.8" stroke="#000" stroke-width="1.4"/>
<line x1="326.8" y1="294.8" x2="464.6" y2="294.8" stroke="#000" stroke-width="1.4"/>
<line x1="472.3" y1="294.8" x2="500.7" y2="294.8" stroke="#000" stroke-width="1.4"/>
<line x1="319.6" y1="291.6" x2="319.6" y2="298.0" stroke="#000" stroke-width="1.2"/>
<line x1="326.8" y1="291.6" x2="326.8" y2="298.0" stroke="#000" stroke-width="1.2"/>
<line x1="464.6" y1="291.6" x2="464.6" y2="298.0" stroke="#000" stroke-width="1.2"/>
<line x1="472.3" y1="291.6" x2="472.3" y2="298.0" stroke="#000" stroke-width="1.2"/>
<line x1="222" y1="294.8" x2="222" y2="298.0" stroke="#000" stroke-width="1.1"/>
<line x1="249.2" y1="294.8" x2="249.2" y2="298.0" stroke="#000" stroke-width="1.1"/>
<line x1="276.4" y1="294.8" x2="276.4" y2="298.0" stroke="#000" stroke-width="1.1"/>
<line x1="303.6" y1="294.8" x2="303.6" y2="298.0" stroke="#000" stroke-width="1.1"/>
<line x1="357" y1="294.8" x2="357" y2="298.0" stroke="#000" stroke-width="1.1"/>
<line x1="387.7" y1="294.8" x2="387.7" y2="298.0" stroke="#000" stroke-width="1.1"/>
<line x1="418.3" y1="294.8" x2="418.3" y2="298.0" stroke="#000" stroke-width="1.1"/>
<line x1="449" y1="294.8" x2="449" y2="298.0" stroke="#000" stroke-width="1.1"/>
<line x1="486.5" y1="294.8" x2="486.5" y2="298.0" stroke="#000" stroke-width="1.1"/>
<line x1="222" y1="176.3" x2="222" y2="293.8" stroke="#404040" stroke-width="1.35" stroke-dasharray="2.1,1.8"/>
<line x1="233" y1="176.3" x2="233" y2="293.8" stroke="#404040" stroke-width="1.35" stroke-dasharray="2.1,1.8"/>
<line x1="254.6" y1="176.3" x2="254.6" y2="293.8" stroke="#404040" stroke-width="1.35" stroke-dasharray="2.1,1.8"/>
<line x1="287" y1="176.3" x2="287" y2="293.8" stroke="#404040" stroke-width="1.35" stroke-dasharray="2.1,1.8"/>
<line x1="479.6" y1="176.3" x2="479.6" y2="293.8" stroke="#404040" stroke-width="1.35" stroke-dasharray="2.1,1.8"/>
<text transform="translate(196.6,234.20000000000002) rotate(-90) scale(0.765,1)" font-size="9.2" text-anchor="middle" fill="#111" stroke="#111" stroke-width="0.3">Endpoint titer (Log<tspan font-size="6.8" dy="1.6">10</tspan><tspan dy="-1.6">)</tspan></text>
<line x1="217" y1="301.3" x2="217" y2="424.9" stroke="#000" stroke-width="1.4"/>
<line x1="500" y1="301.3" x2="500" y2="424.9" stroke="#000" stroke-width="1.4"/>
<line x1="213.5" y1="410.05" x2="217" y2="410.05" stroke="#000" stroke-width="1.1"/>
<text x="210.5" y="413.05" font-size="8.6" text-anchor="end" font-weight="normal" fill="#111" >1</text>
<line x1="500" y1="410.05" x2="503.5" y2="410.05" stroke="#000" stroke-width="1.1"/>
<text x="505.3" y="413.05" font-size="8.6" text-anchor="start" font-weight="normal" fill="#111" >1</text>
<line x1="213.5" y1="388.9" x2="217" y2="388.9" stroke="#000" stroke-width="1.1"/>
<text x="210.5" y="391.9" font-size="8.6" text-anchor="end" font-weight="normal" fill="#111" >2</text>
<line x1="500" y1="388.9" x2="503.5" y2="388.9" stroke="#000" stroke-width="1.1"/>
<text x="505.3" y="391.9" font-size="8.6" text-anchor="start" font-weight="normal" fill="#111" >2</text>
<line x1="213.5" y1="367.75" x2="217" y2="367.75" stroke="#000" stroke-width="1.1"/>
<text x="210.5" y="370.75" font-size="8.6" text-anchor="end" font-weight="normal" fill="#111" >3</text>
<line x1="500" y1="367.75" x2="503.5" y2="367.75" stroke="#000" stroke-width="1.1"/>
<text x="505.3" y="370.75" font-size="8.6" text-anchor="start" font-weight="normal" fill="#111" >3</text>
<line x1="213.5" y1="346.6" x2="217" y2="346.6" stroke="#000" stroke-width="1.1"/>
<text x="210.5" y="349.6" font-size="8.6" text-anchor="end" font-weight="normal" fill="#111" >4</text>
<line x1="500" y1="346.6" x2="503.5" y2="346.6" stroke="#000" stroke-width="1.1"/>
<text x="505.3" y="349.6" font-size="8.6" text-anchor="start" font-weight="normal" fill="#111" >4</text>
<line x1="213.5" y1="325.45" x2="217" y2="325.45" stroke="#000" stroke-width="1.1"/>
<text x="210.5" y="328.45" font-size="8.6" text-anchor="end" font-weight="normal" fill="#111" >5</text>
<line x1="500" y1="325.45" x2="503.5" y2="325.45" stroke="#000" stroke-width="1.1"/>
<text x="505.3" y="328.45" font-size="8.6" text-anchor="start" font-weight="normal" fill="#111" >5</text>
<line x1="213.5" y1="304.3" x2="217" y2="304.3" stroke="#000" stroke-width="1.1"/>
<text x="210.5" y="307.3" font-size="8.6" text-anchor="end" font-weight="normal" fill="#111" >6</text>
<line x1="500" y1="304.3" x2="503.5" y2="304.3" stroke="#000" stroke-width="1.1"/>
<text x="505.3" y="307.3" font-size="8.6" text-anchor="start" font-weight="normal" fill="#111" >6</text>
<line x1="216.3" y1="424.2" x2="319.6" y2="424.2" stroke="#000" stroke-width="1.4"/>
<line x1="326.8" y1="424.2" x2="464.6" y2="424.2" stroke="#000" stroke-width="1.4"/>
<line x1="472.3" y1="424.2" x2="500.7" y2="424.2" stroke="#000" stroke-width="1.4"/>
<line x1="319.6" y1="421.0" x2="319.6" y2="427.4" stroke="#000" stroke-width="1.2"/>
<line x1="326.8" y1="421.0" x2="326.8" y2="427.4" stroke="#000" stroke-width="1.2"/>
<line x1="464.6" y1="421.0" x2="464.6" y2="427.4" stroke="#000" stroke-width="1.2"/>
<line x1="472.3" y1="421.0" x2="472.3" y2="427.4" stroke="#000" stroke-width="1.2"/>
<line x1="222" y1="424.2" x2="222" y2="427.4" stroke="#000" stroke-width="1.1"/>
<line x1="249.2" y1="424.2" x2="249.2" y2="427.4" stroke="#000" stroke-width="1.1"/>
<line x1="276.4" y1="424.2" x2="276.4" y2="427.4" stroke="#000" stroke-width="1.1"/>
<line x1="303.6" y1="424.2" x2="303.6" y2="427.4" stroke="#000" stroke-width="1.1"/>
<line x1="357" y1="424.2" x2="357" y2="427.4" stroke="#000" stroke-width="1.1"/>
<line x1="387.7" y1="424.2" x2="387.7" y2="427.4" stroke="#000" stroke-width="1.1"/>
<line x1="418.3" y1="424.2" x2="418.3" y2="427.4" stroke="#000" stroke-width="1.1"/>
<line x1="449" y1="424.2" x2="449" y2="427.4" stroke="#000" stroke-width="1.1"/>
<line x1="486.5" y1="424.2" x2="486.5" y2="427.4" stroke="#000" stroke-width="1.1"/>
<line x1="222" y1="305.8" x2="222" y2="423.2" stroke="#404040" stroke-width="1.35" stroke-dasharray="2.1,1.8"/>
<line x1="233" y1="305.8" x2="233" y2="423.2" stroke="#404040" stroke-width="1.35" stroke-dasharray="2.1,1.8"/>
<line x1="254.6" y1="305.8" x2="254.6" y2="423.2" stroke="#404040" stroke-width="1.35" stroke-dasharray="2.1,1.8"/>
<line x1="287" y1="305.8" x2="287" y2="423.2" stroke="#404040" stroke-width="1.35" stroke-dasharray="2.1,1.8"/>
<line x1="479.6" y1="305.8" x2="479.6" y2="423.2" stroke="#404040" stroke-width="1.35" stroke-dasharray="2.1,1.8"/>
<text transform="translate(196.6,363.7) rotate(-90) scale(0.765,1)" font-size="9.2" text-anchor="middle" fill="#111" stroke="#111" stroke-width="0.3">Endpoint titer (Log<tspan font-size="6.8" dy="1.6">10</tspan><tspan dy="-1.6">)</tspan></text>
<polyline points="222.0,161.0 227.4,125.8 232.9,123.3 238.3,93.4 243.8,100.2 254.6,107.3 260.1,90.4 265.5,95.4 276.4,100.0 287.3,105.8 292.7,85.2 298.2,91.3 309.0,96.0 319.9,99.4" fill="none" stroke="#26386a" stroke-width="1.6" stroke-linejoin="round"/>
<polyline points="326.0,103.8 333.5,108.5 351.5,111.2 369.5,107.7 387.7,114.6 457.7,116.5 465.2,120.0" fill="none" stroke="#26386a" stroke-width="1.6" stroke-linejoin="round"/>
<polyline points="471.3,123.5 479.6,129.2 492.8,91.8" fill="none" stroke="#26386a" stroke-width="1.6" stroke-linejoin="round"/>
<circle cx="222.0" cy="161.0" r="1.5" fill="#264878"/>
<circle cx="227.4" cy="125.8" r="1.5" fill="#264878"/>
<circle cx="232.9" cy="123.3" r="1.5" fill="#264878"/>
<circle cx="238.3" cy="93.4" r="1.5" fill="#264878"/>
<circle cx="243.8" cy="100.2" r="1.5" fill="#264878"/>
<circle cx="254.6" cy="107.3" r="1.5" fill="#264878"/>
<circle cx="260.1" cy="90.4" r="1.5" fill="#264878"/>
<circle cx="265.5" cy="95.4" r="1.5" fill="#264878"/>
<circle cx="276.4" cy="100.0" r="1.5" fill="#264878"/>
<circle cx="287.3" cy="105.8" r="1.5" fill="#264878"/>
<circle cx="292.7" cy="85.2" r="1.5" fill="#264878"/>
<circle cx="298.2" cy="91.3" r="1.5" fill="#264878"/>
<circle cx="309.0" cy="96.0" r="1.5" fill="#264878"/>
<circle cx="319.9" cy="99.4" r="1.5" fill="#264878"/>
<circle cx="333.5" cy="108.5" r="1.5" fill="#264878"/>
<circle cx="351.5" cy="111.2" r="1.5" fill="#264878"/>
<circle cx="369.5" cy="107.7" r="1.5" fill="#264878"/>
<circle cx="387.7" cy="114.6" r="1.5" fill="#264878"/>
<circle cx="457.7" cy="116.5" r="1.5" fill="#264878"/>
<circle cx="479.6" cy="129.2" r="1.5" fill="#264878"/>
<circle cx="492.8" cy="91.8" r="1.5" fill="#264878"/>
<polyline points="222.0,161.0 227.4,94.0 232.9,99.7 238.3,75.0 243.8,82.0 254.6,90.8 260.1,75.0 265.5,80.4 276.4,86.7 287.3,94.2 292.7,74.4 298.2,79.8 309.0,83.3 319.9,89.0" fill="none" stroke="#9c1a3c" stroke-width="1.6" stroke-linejoin="round"/>
<polyline points="326.0,91.2 333.5,93.5 351.5,96.2 369.5,94.6 387.7,98.9 457.7,100.0 465.2,102.7" fill="none" stroke="#9c1a3c" stroke-width="1.6" stroke-linejoin="round"/>
<polyline points="471.3,103.4 479.6,105.0 492.8,81.2" fill="none" stroke="#9c1a3c" stroke-width="1.6" stroke-linejoin="round"/>
<rect x="220.5" y="159.5" width="3.0" height="3.0" fill="#a01438"/>
<rect x="225.9" y="92.5" width="3.0" height="3.0" fill="#a01438"/>
<rect x="231.4" y="98.2" width="3.0" height="3.0" fill="#a01438"/>
<rect x="236.8" y="73.5" width="3.0" height="3.0" fill="#a01438"/>
<rect x="242.3" y="80.5" width="3.0" height="3.0" fill="#a01438"/>
<rect x="253.1" y="89.3" width="3.0" height="3.0" fill="#a01438"/>
<rect x="258.6" y="73.5" width="3.0" height="3.0" fill="#a01438"/>
<rect x="264.0" y="78.9" width="3.0" height="3.0" fill="#a01438"/>
<rect x="274.9" y="85.2" width="3.0" height="3.0" fill="#a01438"/>
<rect x="285.8" y="92.7" width="3.0" height="3.0" fill="#a01438"/>
<rect x="291.2" y="72.9" width="3.0" height="3.0" fill="#a01438"/>
<rect x="296.7" y="78.3" width="3.0" height="3.0" fill="#a01438"/>
<rect x="307.5" y="81.8" width="3.0" height="3.0" fill="#a01438"/>
<rect x="318.4" y="87.5" width="3.0" height="3.0" fill="#a01438"/>
<rect x="332.0" y="92.0" width="3.0" height="3.0" fill="#a01438"/>
<rect x="350.0" y="94.7" width="3.0" height="3.0" fill="#a01438"/>
<rect x="368.0" y="93.1" width="3.0" height="3.0" fill="#a01438"/>
<rect x="386.2" y="97.4" width="3.0" height="3.0" fill="#a01438"/>
<rect x="456.2" y="98.5" width="3.0" height="3.0" fill="#a01438"/>
<rect x="478.1" y="103.5" width="3.0" height="3.0" fill="#a01438"/>
<rect x="491.3" y="79.7" width="3.0" height="3.0" fill="#a01438"/>
<polyline points="222.0,161.0 227.4,87.0 232.9,90.4 238.3,71.0 243.8,75.0 254.6,82.0 260.1,71.0 265.5,74.6 276.4,79.2 287.3,87.3 292.7,66.5 298.2,71.7 309.0,75.8 319.9,80.4" fill="none" stroke="#6aa050" stroke-width="1.6" stroke-linejoin="round"/>
<polyline points="326.0,80.8 333.5,84.2 351.5,86.2 369.5,81.5 387.7,85.0 457.7,85.0 465.2,85.3" fill="none" stroke="#6aa050" stroke-width="1.6" stroke-linejoin="round"/>
<polyline points="471.3,85.0 479.6,85.0 492.8,69.7" fill="none" stroke="#6aa050" stroke-width="1.6" stroke-linejoin="round"/>
<polygon points="222.0,159.2 223.6,162.2 220.4,162.2" fill="#5a8a48"/>
<polygon points="227.4,85.2 229.0,88.2 225.8,88.2" fill="#5a8a48"/>
<polygon points="232.9,88.6 234.5,91.6 231.3,91.6" fill="#5a8a48"/>
<polygon points="238.3,69.2 239.9,72.2 236.7,72.2" fill="#5a8a48"/>
<polygon points="243.8,73.2 245.4,76.2 242.2,76.2" fill="#5a8a48"/>
<polygon points="254.6,80.2 256.2,83.2 253.0,83.2" fill="#5a8a48"/>
<polygon points="260.1,69.2 261.7,72.2 258.5,72.2" fill="#5a8a48"/>
<polygon points="265.5,72.8 267.1,75.8 263.9,75.8" fill="#5a8a48"/>
<polygon points="276.4,77.4 278.0,80.4 274.8,80.4" fill="#5a8a48"/>
<polygon points="287.3,85.5 288.9,88.5 285.7,88.5" fill="#5a8a48"/>
<polygon points="292.7,64.7 294.3,67.7 291.1,67.7" fill="#5a8a48"/>
<polygon points="298.2,69.9 299.8,72.9 296.6,72.9" fill="#5a8a48"/>
<polygon points="309.0,74.0 310.6,77.0 307.4,77.0" fill="#5a8a48"/>
<polygon points="319.9,78.6 321.5,81.6 318.3,81.6" fill="#5a8a48"/>
<polygon points="333.5,82.4 335.1,85.4 331.9,85.4" fill="#5a8a48"/>
<polygon points="351.5,84.4 353.1,87.4 349.9,87.4" fill="#5a8a48"/>
<polygon points="369.5,79.7 371.1,82.7 367.9,82.7" fill="#5a8a48"/>
<polygon points="387.7,83.2 389.3,86.2 386.1,86.2" fill="#5a8a48"/>
<polygon points="457.7,83.2 459.3,86.2 456.1,86.2" fill="#5a8a48"/>
<polygon points="479.6,83.2 481.2,86.2 478.0,86.2" fill="#5a8a48"/>
<polygon points="492.8,67.9 494.4,70.9 491.2,70.9" fill="#5a8a48"/>
<polyline points="222.0,161.0 227.4,82.0 232.9,85.4 238.3,65.5 243.8,69.8 254.6,77.0 260.1,66.0 265.5,69.4 276.4,77.5 287.3,86.2 292.7,61.7 298.2,66.5 309.0,70.0 319.9,76.3" fill="none" stroke="#3a2658" stroke-width="1.6" stroke-linejoin="round"/>
<polyline points="326.0,80.8 333.5,84.2 351.5,80.0 369.5,77.7 387.7,82.6 457.7,85.0 465.2,85.3" fill="none" stroke="#3a2658" stroke-width="1.6" stroke-linejoin="round"/>
<polyline points="471.3,85.0 479.6,85.0 492.8,69.7" fill="none" stroke="#3a2658" stroke-width="1.6" stroke-linejoin="round"/>
<polygon points="222.0,162.8 223.6,159.8 220.4,159.8" fill="#2e1e48"/>
<polygon points="227.4,83.8 229.0,80.8 225.8,80.8" fill="#2e1e48"/>
<polygon points="232.9,87.2 234.5,84.2 231.3,84.2" fill="#2e1e48"/>
<polygon points="238.3,67.3 239.9,64.3 236.7,64.3" fill="#2e1e48"/>
<polygon points="243.8,71.6 245.4,68.6 242.2,68.6" fill="#2e1e48"/>
<polygon points="254.6,78.8 256.2,75.8 253.0,75.8" fill="#2e1e48"/>
<polygon points="260.1,67.8 261.7,64.8 258.5,64.8" fill="#2e1e48"/>
<polygon points="265.5,71.2 267.1,68.2 263.9,68.2" fill="#2e1e48"/>
<polygon points="276.4,79.3 278.0,76.3 274.8,76.3" fill="#2e1e48"/>
<polygon points="287.3,88.0 288.9,85.0 285.7,85.0" fill="#2e1e48"/>
<polygon points="292.7,63.5 294.3,60.5 291.1,60.5" fill="#2e1e48"/>
<polygon points="298.2,68.3 299.8,65.3 296.6,65.3" fill="#2e1e48"/>
<polygon points="309.0,71.8 310.6,68.8 307.4,68.8" fill="#2e1e48"/>
<polygon points="319.9,78.1 321.5,75.1 318.3,75.1" fill="#2e1e48"/>
<polygon points="333.5,86.0 335.1,83.0 331.9,83.0" fill="#2e1e48"/>
<polygon points="351.5,81.8 353.1,78.8 349.9,78.8" fill="#2e1e48"/>
<polygon points="369.5,79.5 371.1,76.5 367.9,76.5" fill="#2e1e48"/>
<polygon points="387.7,84.4 389.3,81.4 386.1,81.4" fill="#2e1e48"/>
<polygon points="457.7,86.8 459.3,83.8 456.1,83.8" fill="#2e1e48"/>
<polygon points="479.6,86.8 481.2,83.8 478.0,83.8" fill="#2e1e48"/>
<polygon points="492.8,71.5 494.4,68.5 491.2,68.5" fill="#2e1e48"/>
<line x1="371.8" y1="128.8" x2="383.8" y2="128.8" stroke="#26386a" stroke-width="1.4"/>
<circle cx="377.8" cy="128.8" r="1.7" fill="#264878"/>
<text x="386.5" y="131.60000000000002" font-size="7.7" text-anchor="start" font-weight="normal" fill="#111" >Env</text>
<line x1="371.8" y1="136.3" x2="383.8" y2="136.3" stroke="#9c1a3c" stroke-width="1.4"/>
<rect x="376.1" y="134.6" width="3.4" height="3.4" fill="#a01438"/>
<text x="386.5" y="139.10000000000002" font-size="7.7" text-anchor="start" font-weight="normal" fill="#111" >Env + alum</text>
<line x1="371.8" y1="143.8" x2="383.8" y2="143.8" stroke="#6aa050" stroke-width="1.4"/>
<polygon points="377.8,141.8 379.5,145.1 376.1,145.1" fill="#5a8a48"/>
<text x="386.5" y="146.60000000000002" font-size="7.7" text-anchor="start" font-weight="normal" fill="#111" >Env + alum / TLR4</text>
<line x1="371.8" y1="151.2" x2="383.8" y2="151.2" stroke="#3a2658" stroke-width="1.4"/>
<polygon points="377.8,153.2 379.5,149.9 376.1,149.9" fill="#2e1e48"/>
<text x="386.5" y="154.0" font-size="7.7" text-anchor="start" font-weight="normal" fill="#111" >Env + alum / TLR7</text>
<polyline points="222.0,285.0 227.4,223.3 232.9,229.7 238.3,205.4 243.8,213.7 254.6,222.0 260.1,205.6 265.5,211.6 276.4,218.0 287.3,225.1 292.7,207.6 298.2,211.0 309.0,215.3 319.9,220.0" fill="none" stroke="#9c1a3c" stroke-width="1.6" stroke-linejoin="round"/>
<polyline points="326.0,222.4 333.5,224.5 351.5,227.0 369.5,226.2 387.7,230.4 457.7,231.2 465.2,234.6" fill="none" stroke="#9c1a3c" stroke-width="1.6" stroke-linejoin="round"/>
<polyline points="471.3,234.6 479.6,235.8 492.8,212.2" fill="none" stroke="#9c1a3c" stroke-width="1.6" stroke-linejoin="round"/>
<rect x="220.5" y="283.5" width="3.0" height="3.0" fill="#a01438"/>
<rect x="225.9" y="221.8" width="3.0" height="3.0" fill="#a01438"/>
<rect x="231.4" y="228.2" width="3.0" height="3.0" fill="#a01438"/>
<rect x="236.8" y="203.9" width="3.0" height="3.0" fill="#a01438"/>
<rect x="242.3" y="212.2" width="3.0" height="3.0" fill="#a01438"/>
<rect x="253.1" y="220.5" width="3.0" height="3.0" fill="#a01438"/>
<rect x="258.6" y="204.1" width="3.0" height="3.0" fill="#a01438"/>
<rect x="264.0" y="210.1" width="3.0" height="3.0" fill="#a01438"/>
<rect x="274.9" y="216.5" width="3.0" height="3.0" fill="#a01438"/>
<rect x="285.8" y="223.6" width="3.0" height="3.0" fill="#a01438"/>
<rect x="291.2" y="206.1" width="3.0" height="3.0" fill="#a01438"/>
<rect x="296.7" y="209.5" width="3.0" height="3.0" fill="#a01438"/>
<rect x="307.5" y="213.8" width="3.0" height="3.0" fill="#a01438"/>
<rect x="318.4" y="218.5" width="3.0" height="3.0" fill="#a01438"/>
<rect x="332.0" y="223.0" width="3.0" height="3.0" fill="#a01438"/>
<rect x="350.0" y="225.5" width="3.0" height="3.0" fill="#a01438"/>
<rect x="368.0" y="224.7" width="3.0" height="3.0" fill="#a01438"/>
<rect x="386.2" y="228.9" width="3.0" height="3.0" fill="#a01438"/>
<rect x="456.2" y="229.7" width="3.0" height="3.0" fill="#a01438"/>
<rect x="478.1" y="234.3" width="3.0" height="3.0" fill="#a01438"/>
<rect x="491.3" y="210.7" width="3.0" height="3.0" fill="#a01438"/>
<polyline points="222.0,288.0 227.4,220.0 232.9,226.0 238.3,197.0 243.8,203.0 254.6,210.0 260.1,197.0 265.5,204.0 276.4,209.0 287.3,216.0 292.7,195.0 298.2,203.0 309.0,206.5 319.9,208.3" fill="none" stroke="#e09858" stroke-width="1.6" stroke-linejoin="round"/>
<polyline points="326.0,212.0 333.5,213.0 351.5,212.0 369.5,211.0 387.7,217.3 457.7,219.2 465.2,219.6" fill="none" stroke="#e09858" stroke-width="1.6" stroke-linejoin="round"/>
<polyline points="471.3,222.0 479.6,224.2 492.8,201.2" fill="none" stroke="#e09858" stroke-width="1.6" stroke-linejoin="round"/>
<polygon points="222.0,286.1 223.6,288.0 222.0,289.9 220.4,288.0" fill="#b07838"/>
<polygon points="227.4,218.1 229.0,220.0 227.4,221.9 225.8,220.0" fill="#b07838"/>
<polygon points="232.9,224.1 234.5,226.0 232.9,227.9 231.3,226.0" fill="#b07838"/>
<polygon points="238.3,195.1 239.9,197.0 238.3,198.9 236.7,197.0" fill="#b07838"/>
<polygon points="243.8,201.1 245.4,203.0 243.8,204.9 242.2,203.0" fill="#b07838"/>
<polygon points="254.6,208.1 256.2,210.0 254.6,211.9 253.0,210.0" fill="#b07838"/>
<polygon points="260.1,195.1 261.7,197.0 260.1,198.9 258.5,197.0" fill="#b07838"/>
<polygon points="265.5,202.1 267.1,204.0 265.5,205.9 263.9,204.0" fill="#b07838"/>
<polygon points="276.4,207.1 278.0,209.0 276.4,210.9 274.8,209.0" fill="#b07838"/>
<polygon points="287.3,214.1 288.9,216.0 287.3,217.9 285.7,216.0" fill="#b07838"/>
<polygon points="292.7,193.1 294.3,195.0 292.7,196.9 291.1,195.0" fill="#b07838"/>
<polygon points="298.2,201.1 299.8,203.0 298.2,204.9 296.6,203.0" fill="#b07838"/>
<polygon points="309.0,204.6 310.6,206.5 309.0,208.4 307.4,206.5" fill="#b07838"/>
<polygon points="319.9,206.4 321.5,208.3 319.9,210.2 318.3,208.3" fill="#b07838"/>
<polygon points="333.5,211.1 335.1,213.0 333.5,214.9 331.9,213.0" fill="#b07838"/>
<polygon points="351.5,210.1 353.1,212.0 351.5,213.9 349.9,212.0" fill="#b07838"/>
<polygon points="369.5,209.1 371.1,211.0 369.5,212.9 367.9,211.0" fill="#b07838"/>
<polygon points="387.7,215.4 389.3,217.3 387.7,219.2 386.1,217.3" fill="#b07838"/>
<polygon points="457.7,217.3 459.3,219.2 457.7,221.1 456.1,219.2" fill="#b07838"/>
<polygon points="479.6,222.3 481.2,224.2 479.6,226.1 478.0,224.2" fill="#b07838"/>
<polygon points="492.8,199.3 494.4,201.2 492.8,203.1 491.2,201.2" fill="#b07838"/>
<polyline points="222.0,282.2 227.4,223.3 232.9,223.3 238.3,191.6 243.8,203.0 254.6,207.6 260.1,194.1 265.5,201.5 276.4,204.9 287.3,212.0 292.7,192.8 298.2,201.5 309.0,204.2 319.9,205.6" fill="none" stroke="#a02870" stroke-width="1.6" stroke-linejoin="round"/>
<polyline points="326.0,209.6 333.5,213.8 351.5,213.2 369.5,210.7 387.7,213.8 457.7,216.2 465.2,217.0" fill="none" stroke="#a02870" stroke-width="1.6" stroke-linejoin="round"/>
<circle cx="222.0" cy="282.2" r="2.0" fill="#4a1038"/>
<circle cx="227.4" cy="223.3" r="2.0" fill="#4a1038"/>
<circle cx="232.9" cy="223.3" r="2.0" fill="#4a1038"/>
<circle cx="238.3" cy="191.6" r="2.0" fill="#4a1038"/>
<circle cx="243.8" cy="203.0" r="2.0" fill="#4a1038"/>
<circle cx="254.6" cy="207.6" r="2.0" fill="#4a1038"/>
<circle cx="260.1" cy="194.1" r="2.0" fill="#4a1038"/>
<circle cx="265.5" cy="201.5" r="2.0" fill="#4a1038"/>
<circle cx="276.4" cy="204.9" r="2.0" fill="#4a1038"/>
<circle cx="287.3" cy="212.0" r="2.0" fill="#4a1038"/>
<circle cx="292.7" cy="192.8" r="2.0" fill="#4a1038"/>
<circle cx="298.2" cy="201.5" r="2.0" fill="#4a1038"/>
<circle cx="309.0" cy="204.2" r="2.0" fill="#4a1038"/>
<circle cx="319.9" cy="205.6" r="2.0" fill="#4a1038"/>
<circle cx="333.5" cy="213.8" r="2.0" fill="#4a1038"/>
<circle cx="351.5" cy="213.2" r="2.0" fill="#4a1038"/>
<circle cx="369.5" cy="210.7" r="2.0" fill="#4a1038"/>
<circle cx="387.7" cy="213.8" r="2.0" fill="#4a1038"/>
<circle cx="457.7" cy="216.2" r="2.0" fill="#4a1038"/>
<polyline points="222.0,290.4 227.4,217.4 232.9,223.3 238.3,200.2 243.8,203.0 254.6,212.8 260.1,202.9 265.5,206.6 276.4,213.6 287.3,220.4 292.7,201.5 298.2,204.0 309.0,209.0 319.9,212.7" fill="none" stroke="#e8b050" stroke-width="1.6" stroke-linejoin="round"/>
<polyline points="326.0,216.5 333.5,219.3 351.5,218.0 369.5,219.3 387.7,220.4 457.7,219.2 465.2,219.6" fill="none" stroke="#e8b050" stroke-width="1.6" stroke-linejoin="round"/>
<rect x="220.5" y="288.9" width="3.0" height="3.0" fill="#d8b070" stroke="#3a2a10" stroke-width="0.9"/>
<rect x="225.9" y="215.9" width="3.0" height="3.0" fill="#d8b070" stroke="#3a2a10" stroke-width="0.9"/>
<rect x="231.4" y="221.8" width="3.0" height="3.0" fill="#d8b070" stroke="#3a2a10" stroke-width="0.9"/>
<rect x="236.8" y="198.7" width="3.0" height="3.0" fill="#d8b070" stroke="#3a2a10" stroke-width="0.9"/>
<rect x="242.3" y="201.5" width="3.0" height="3.0" fill="#d8b070" stroke="#3a2a10" stroke-width="0.9"/>
<rect x="253.1" y="211.3" width="3.0" height="3.0" fill="#d8b070" stroke="#3a2a10" stroke-width="0.9"/>
<rect x="258.6" y="201.4" width="3.0" height="3.0" fill="#d8b070" stroke="#3a2a10" stroke-width="0.9"/>
<rect x="264.0" y="205.1" width="3.0" height="3.0" fill="#d8b070" stroke="#3a2a10" stroke-width="0.9"/>
<rect x="274.9" y="212.1" width="3.0" height="3.0" fill="#d8b070" stroke="#3a2a10" stroke-width="0.9"/>
<rect x="285.8" y="218.9" width="3.0" height="3.0" fill="#d8b070" stroke="#3a2a10" stroke-width="0.9"/>
<rect x="291.2" y="200.0" width="3.0" height="3.0" fill="#d8b070" stroke="#3a2a10" stroke-width="0.9"/>
<rect x="296.7" y="202.5" width="3.0" height="3.0" fill="#d8b070" stroke="#3a2a10" stroke-width="0.9"/>
<rect x="307.5" y="207.5" width="3.0" height="3.0" fill="#d8b070" stroke="#3a2a10" stroke-width="0.9"/>
<rect x="318.4" y="211.2" width="3.0" height="3.0" fill="#d8b070" stroke="#3a2a10" stroke-width="0.9"/>
<rect x="332.0" y="217.8" width="3.0" height="3.0" fill="#d8b070" stroke="#3a2a10" stroke-width="0.9"/>
<rect x="350.0" y="216.5" width="3.0" height="3.0" fill="#d8b070" stroke="#3a2a10" stroke-width="0.9"/>
<rect x="368.0" y="217.8" width="3.0" height="3.0" fill="#d8b070" stroke="#3a2a10" stroke-width="0.9"/>
<rect x="386.2" y="218.9" width="3.0" height="3.0" fill="#d8b070" stroke="#3a2a10" stroke-width="0.9"/>
<rect x="456.2" y="217.7" width="3.0" height="3.0" fill="#d8b070" stroke="#3a2a10" stroke-width="0.9"/>
<line x1="371.8" y1="256.5" x2="383.8" y2="256.5" stroke="#9c1a3c" stroke-width="1.4"/>
<rect x="376.1" y="254.8" width="3.4" height="3.4" fill="#a01438"/>
<text x="386.5" y="259.3" font-size="7.7" text-anchor="start" font-weight="normal" fill="#111" >Env + alum</text>
<line x1="371.8" y1="264.1" x2="383.8" y2="264.1" stroke="#e09858" stroke-width="1.4"/>
<polygon points="377.8,262.1 379.5,264.1 377.8,266.1 376.1,264.1" fill="#b07838"/>
<text x="386.5" y="266.90000000000003" font-size="7.7" text-anchor="start" font-weight="normal" fill="#111" >Env + MF59</text>
<line x1="371.8" y1="271.6" x2="383.8" y2="271.6" stroke="#a02870" stroke-width="1.4"/>
<circle cx="377.8" cy="271.6" r="1.7" fill="#5a1440"/>
<text x="386.5" y="274.40000000000003" font-size="7.7" text-anchor="start" font-weight="normal" fill="#111" >Env + ANE / TLR4</text>
<line x1="371.8" y1="279.1" x2="383.8" y2="279.1" stroke="#e8b050" stroke-width="1.4"/>
<rect x="376.2" y="277.5" width="3.2" height="3.2" fill="#e8b050" stroke="#3a2a10" stroke-width="0.9"/>
<text x="386.5" y="281.90000000000003" font-size="7.7" text-anchor="start" font-weight="normal" fill="#111" >Env + ANE / TLR7</text>
<polyline points="222.0,418.0 227.4,353.3 232.9,359.3 238.3,333.9 243.8,342.8 254.6,350.9 260.1,334.5 265.5,341.0 276.4,346.6 287.3,353.7 292.7,334.2 298.2,339.9 309.0,344.3 319.9,349.3" fill="none" stroke="#9c1a3c" stroke-width="1.6" stroke-linejoin="round"/>
<polyline points="326.0,351.5 333.5,353.8 351.5,356.5 369.5,355.3 387.7,359.6 457.7,360.2 465.2,362.2" fill="none" stroke="#9c1a3c" stroke-width="1.6" stroke-linejoin="round"/>
<polyline points="471.3,363.3 479.6,364.7 492.8,341.8" fill="none" stroke="#9c1a3c" stroke-width="1.6" stroke-linejoin="round"/>
<rect x="220.5" y="416.5" width="3.0" height="3.0" fill="#a01438"/>
<rect x="225.9" y="351.8" width="3.0" height="3.0" fill="#a01438"/>
<rect x="231.4" y="357.8" width="3.0" height="3.0" fill="#a01438"/>
<rect x="236.8" y="332.4" width="3.0" height="3.0" fill="#a01438"/>
<rect x="242.3" y="341.3" width="3.0" height="3.0" fill="#a01438"/>
<rect x="253.1" y="349.4" width="3.0" height="3.0" fill="#a01438"/>
<rect x="258.6" y="333.0" width="3.0" height="3.0" fill="#a01438"/>
<rect x="264.0" y="339.5" width="3.0" height="3.0" fill="#a01438"/>
<rect x="274.9" y="345.1" width="3.0" height="3.0" fill="#a01438"/>
<rect x="285.8" y="352.2" width="3.0" height="3.0" fill="#a01438"/>
<rect x="291.2" y="332.7" width="3.0" height="3.0" fill="#a01438"/>
<rect x="296.7" y="338.4" width="3.0" height="3.0" fill="#a01438"/>
<rect x="307.5" y="342.8" width="3.0" height="3.0" fill="#a01438"/>
<rect x="318.4" y="347.8" width="3.0" height="3.0" fill="#a01438"/>
<rect x="332.0" y="352.3" width="3.0" height="3.0" fill="#a01438"/>
<rect x="350.0" y="355.0" width="3.0" height="3.0" fill="#a01438"/>
<rect x="368.0" y="353.8" width="3.0" height="3.0" fill="#a01438"/>
<rect x="386.2" y="358.1" width="3.0" height="3.0" fill="#a01438"/>
<rect x="456.2" y="358.7" width="3.0" height="3.0" fill="#a01438"/>
<rect x="478.1" y="363.2" width="3.0" height="3.0" fill="#a01438"/>
<rect x="491.3" y="340.3" width="3.0" height="3.0" fill="#a01438"/>
<polyline points="222.0,420.4 227.4,349.6 232.9,349.6 238.3,323.8 243.8,332.5 254.6,337.6 260.1,325.6 265.5,329.5 276.4,337.6 287.3,340.3 292.7,328.2 298.2,331.5 309.0,336.2 319.9,341.6" fill="none" stroke="#2a4840" stroke-width="1.6" stroke-linejoin="round"/>
<polyline points="326.0,344.7 333.5,347.8 351.5,347.6 369.5,346.5 387.7,346.8 457.7,349.8 465.2,350.5" fill="none" stroke="#2a4840" stroke-width="1.6" stroke-linejoin="round"/>
<polygon points="222.0,422.9 224.2,418.8 219.8,418.8" fill="#000"/>
<polygon points="227.4,352.1 229.6,348.0 225.2,348.0" fill="#000"/>
<polygon points="232.9,352.1 235.1,348.0 230.7,348.0" fill="#000"/>
<polygon points="238.3,326.3 240.5,322.2 236.1,322.2" fill="#000"/>
<polygon points="243.8,335.0 246.0,330.9 241.6,330.9" fill="#000"/>
<polygon points="254.6,340.1 256.8,336.0 252.4,336.0" fill="#000"/>
<polygon points="260.1,328.1 262.3,324.0 257.9,324.0" fill="#000"/>
<polygon points="265.5,332.0 267.7,327.9 263.3,327.9" fill="#000"/>
<polygon points="276.4,340.1 278.6,336.0 274.2,336.0" fill="#000"/>
<polygon points="287.3,342.8 289.5,338.7 285.1,338.7" fill="#000"/>
<polygon points="292.7,330.7 294.9,326.6 290.5,326.6" fill="#000"/>
<polygon points="298.2,334.0 300.4,329.9 296.0,329.9" fill="#000"/>
<polygon points="309.0,338.7 311.2,334.6 306.8,334.6" fill="#000"/>
<polygon points="319.9,344.1 322.1,340.0 317.7,340.0" fill="#000"/>
<polygon points="333.5,350.3 335.7,346.2 331.3,346.2" fill="#000"/>
<polygon points="351.5,350.1 353.7,346.0 349.3,346.0" fill="#000"/>
<polygon points="369.5,349.0 371.7,344.9 367.3,344.9" fill="#000"/>
<polygon points="387.7,349.3 389.9,345.2 385.5,345.2" fill="#000"/>
<polygon points="457.7,352.3 459.9,348.2 455.5,348.2" fill="#000"/>
<polyline points="222.0,420.4 227.4,349.6 232.9,349.6 238.3,323.8 243.8,330.6 254.6,337.6 260.1,324.8 265.5,326.8 276.4,332.2 287.3,334.9 292.7,328.2 298.2,330.2 309.0,332.2 319.9,334.9" fill="none" stroke="#aab0cc" stroke-width="1.6" stroke-linejoin="round"/>
<polyline points="326.0,337.6 333.5,340.4 351.5,341.2 369.5,343.5 387.7,345.8 457.7,344.2 465.2,346.2" fill="none" stroke="#aab0cc" stroke-width="1.6" stroke-linejoin="round"/>
<polyline points="471.3,347.4 479.6,348.8 492.8,321.5" fill="none" stroke="#aab0cc" stroke-width="1.6" stroke-linejoin="round"/>
<polygon points="222.0,418.0 224.1,422.0 219.9,422.0" fill="#606070" stroke="#000" stroke-width="0.9"/>
<polygon points="227.4,347.2 229.5,351.2 225.3,351.2" fill="#606070" stroke="#000" stroke-width="0.9"/>
<polygon points="232.9,347.2 235.0,351.2 230.8,351.2" fill="#606070" stroke="#000" stroke-width="0.9"/>
<polygon points="238.3,321.4 240.4,325.4 236.2,325.4" fill="#606070" stroke="#000" stroke-width="0.9"/>
<polygon points="243.8,328.2 245.9,332.2 241.7,332.2" fill="#606070" stroke="#000" stroke-width="0.9"/>
<polygon points="254.6,335.2 256.7,339.2 252.5,339.2" fill="#606070" stroke="#000" stroke-width="0.9"/>
<polygon points="260.1,322.4 262.2,326.4 258.0,326.4" fill="#606070" stroke="#000" stroke-width="0.9"/>
<polygon points="265.5,324.4 267.6,328.4 263.4,328.4" fill="#606070" stroke="#000" stroke-width="0.9"/>
<polygon points="276.4,329.8 278.5,333.8 274.3,333.8" fill="#606070" stroke="#000" stroke-width="0.9"/>
<polygon points="287.3,332.5 289.4,336.5 285.2,336.5" fill="#606070" stroke="#000" stroke-width="0.9"/>
<polygon points="292.7,325.8 294.8,329.8 290.6,329.8" fill="#606070" stroke="#000" stroke-width="0.9"/>
<polygon points="298.2,327.8 300.3,331.8 296.1,331.8" fill="#606070" stroke="#000" stroke-width="0.9"/>
<polygon points="309.0,329.8 311.1,333.8 306.9,333.8" fill="#606070" stroke="#000" stroke-width="0.9"/>
<polygon points="319.9,332.5 322.0,336.5 317.8,336.5" fill="#606070" stroke="#000" stroke-width="0.9"/>
<polygon points="333.5,338.0 335.6,342.0 331.4,342.0" fill="#606070" stroke="#000" stroke-width="0.9"/>
<polygon points="351.5,338.8 353.6,342.8 349.4,342.8" fill="#606070" stroke="#000" stroke-width="0.9"/>
<polygon points="369.5,341.1 371.6,345.1 367.4,345.1" fill="#606070" stroke="#000" stroke-width="0.9"/>
<polygon points="387.7,343.4 389.8,347.4 385.6,347.4" fill="#606070" stroke="#000" stroke-width="0.9"/>
<polygon points="457.7,341.8 459.8,345.8 455.6,345.8" fill="#606070" stroke="#000" stroke-width="0.9"/>
<polygon points="479.6,346.4 481.7,350.4 477.5,350.4" fill="#606070" stroke="#000" stroke-width="0.9"/>
<polygon points="492.8,319.1 494.9,323.1 490.7,323.1" fill="#606070" stroke="#000" stroke-width="0.9"/>
<circle cx="222.0" cy="420.4" r="1.8" fill="#bbb" stroke="#000" stroke-width="1.1"/>
<line x1="371.8" y1="392" x2="383.8" y2="392" stroke="#9c1a3c" stroke-width="1.4"/>
<rect x="376.1" y="390.3" width="3.4" height="3.4" fill="#a01438"/>
<text x="386.5" y="394.8" font-size="7.7" text-anchor="start" font-weight="normal" fill="#111" >Env + alum</text>
<line x1="371.8" y1="400.2" x2="383.8" y2="400.2" stroke="#aab0cc" stroke-width="1.4"/>
<polygon points="377.8,398.4 379.4,401.4 376.2,401.4" fill="#9090a8" stroke="#111" stroke-width="0.9"/>
<text x="386.5" y="403.0" font-size="7.7" text-anchor="start" font-weight="normal" fill="#111" >Env + pIC:LC</text>
<line x1="371.8" y1="408.3" x2="383.8" y2="408.3" stroke="#2a4840" stroke-width="1.4"/>
<polygon points="377.8,410.3 379.5,407.0 376.1,407.0" fill="#111"/>
<text x="386.5" y="411.1" font-size="7.7" text-anchor="start" font-weight="normal" fill="#111" >Env + ISCOM</text>
<text x="221.8" y="439.1" font-size="8.6" text-anchor="middle" font-weight="normal" fill="#111" >0</text>
<text x="249.2" y="439.1" font-size="8.6" text-anchor="middle" font-weight="normal" fill="#111" >10</text>
<text x="276.4" y="439.1" font-size="8.6" text-anchor="middle" font-weight="normal" fill="#111" >20</text>
<text x="303.6" y="439.1" font-size="8.6" text-anchor="middle" font-weight="normal" fill="#111" >30</text>
<text x="326.5" y="439.1" font-size="8.6" text-anchor="middle" font-weight="normal" fill="#111" >40</text>
<text x="357" y="439.1" font-size="8.6" text-anchor="middle" font-weight="normal" fill="#111" >50</text>
<text x="387.7" y="439.1" font-size="8.6" text-anchor="middle" font-weight="normal" fill="#111" >60</text>
<text x="418.3" y="439.1" font-size="8.6" text-anchor="middle" font-weight="normal" fill="#111" >70</text>
<text x="449" y="439.1" font-size="8.6" text-anchor="middle" font-weight="normal" fill="#111" >80</text>
<text x="485" y="439.1" font-size="8.6" text-anchor="middle" font-weight="normal" fill="#111" >90</text>
<text transform="translate(352,454.4) scale(0.8,1)" font-size="8.9" text-anchor="middle" font-weight="normal" fill="#111" stroke="#111" stroke-width="0.35">Time point (weeks)</text>
<text x="188" y="483.6" font-size="12" text-anchor="start" font-weight="bold" fill="#000" >E</text>
<text x="343.5" y="483.9" font-size="10" text-anchor="middle" font-weight="normal" fill="#111" >Durability of mouse binding titers</text>
<line x1="217.5" y1="499" x2="217.5" y2="614.5" stroke="#000" stroke-width="1.4"/>
<line x1="216.8" y1="613.8" x2="474.9" y2="613.8" stroke="#000" stroke-width="1.4"/>
<line x1="214" y1="613.8" x2="217.5" y2="613.8" stroke="#000" stroke-width="1.1"/>
<text x="211.2" y="616.8" font-size="8.6" text-anchor="end" font-weight="normal" fill="#111" >0</text>
<line x1="214" y1="595.0799999999999" x2="217.5" y2="595.0799999999999" stroke="#000" stroke-width="1.1"/>
<text x="211.2" y="598.0799999999999" font-size="8.6" text-anchor="end" font-weight="normal" fill="#111" >1</text>
<line x1="214" y1="576.3599999999999" x2="217.5" y2="576.3599999999999" stroke="#000" stroke-width="1.1"/>
<text x="211.2" y="579.3599999999999" font-size="8.6" text-anchor="end" font-weight="normal" fill="#111" >2</text>
<line x1="214" y1="557.64" x2="217.5" y2="557.64" stroke="#000" stroke-width="1.1"/>
<text x="211.2" y="560.64" font-size="8.6" text-anchor="end" font-weight="normal" fill="#111" >3</text>
<line x1="214" y1="538.92" x2="217.5" y2="538.92" stroke="#000" stroke-width="1.1"/>
<text x="211.2" y="541.92" font-size="8.6" text-anchor="end" font-weight="normal" fill="#111" >4</text>
<line x1="214" y1="520.1999999999999" x2="217.5" y2="520.1999999999999" stroke="#000" stroke-width="1.1"/>
<text x="211.2" y="523.1999999999999" font-size="8.6" text-anchor="end" font-weight="normal" fill="#111" >5</text>
<line x1="214" y1="501.47999999999996" x2="217.5" y2="501.47999999999996" stroke="#000" stroke-width="1.1"/>
<text x="211.2" y="504.47999999999996" font-size="8.6" text-anchor="end" font-weight="normal" fill="#111" >6</text>
<line x1="223.0" y1="613.8" x2="223.0" y2="617" stroke="#000" stroke-width="1.1"/>
<text x="223.0" y="627.6" font-size="8.6" text-anchor="middle" font-weight="normal" fill="#111" >0</text>
<line x1="278.85" y1="613.8" x2="278.85" y2="617" stroke="#000" stroke-width="1.1"/>
<text x="278.85" y="627.6" font-size="8.6" text-anchor="middle" font-weight="normal" fill="#111" >10</text>
<line x1="334.7" y1="613.8" x2="334.7" y2="617" stroke="#000" stroke-width="1.1"/>
<text x="334.7" y="627.6" font-size="8.6" text-anchor="middle" font-weight="normal" fill="#111" >20</text>
<line x1="390.55" y1="613.8" x2="390.55" y2="617" stroke="#000" stroke-width="1.1"/>
<text x="390.55" y="627.6" font-size="8.6" text-anchor="middle" font-weight="normal" fill="#111" >30</text>
<line x1="446.4" y1="613.8" x2="446.4" y2="617" stroke="#000" stroke-width="1.1"/>
<text x="446.4" y="627.6" font-size="8.6" text-anchor="middle" font-weight="normal" fill="#111" >40</text>
<line x1="223" y1="503" x2="223" y2="612.5" stroke="#404040" stroke-width="1.35" stroke-dasharray="2.1,1.8"/>
<line x1="239.9" y1="503" x2="239.9" y2="612.5" stroke="#404040" stroke-width="1.35" stroke-dasharray="2.1,1.8"/>
<text transform="translate(346,641.6) scale(0.8,1)" font-size="8.9" text-anchor="middle" font-weight="normal" fill="#111" stroke="#111" stroke-width="0.35">Time point (weeks)</text>
<polyline points="231.0,604.0 248.6,551.8 272.6,554.2 321.1,551.3 370.5,552.8 466.3,554.4" fill="none" stroke="#26386a" stroke-width="1.4" stroke-linejoin="round"/>
<circle cx="231.0" cy="604.0" r="1.6" fill="#264878"/>
<circle cx="248.6" cy="551.8" r="1.6" fill="#264878"/>
<circle cx="272.6" cy="554.2" r="1.6" fill="#264878"/>
<circle cx="321.1" cy="551.3" r="1.6" fill="#264878"/>
<circle cx="370.5" cy="552.8" r="1.6" fill="#264878"/>
<circle cx="466.3" cy="554.4" r="1.6" fill="#264878"/>
<polyline points="231.0,576.7 248.6,532.3 272.6,533.5 321.1,531.8 370.5,532.5 466.3,532.6" fill="none" stroke="#9c1a3c" stroke-width="1.4" stroke-linejoin="round"/>
<rect x="229.4" y="575.1" width="3.2" height="3.2" fill="#a01438"/>
<rect x="247.0" y="530.7" width="3.2" height="3.2" fill="#a01438"/>
<rect x="271.0" y="531.9" width="3.2" height="3.2" fill="#a01438"/>
<rect x="319.5" y="530.2" width="3.2" height="3.2" fill="#a01438"/>
<rect x="368.9" y="530.9" width="3.2" height="3.2" fill="#a01438"/>
<rect x="464.7" y="531.0" width="3.2" height="3.2" fill="#a01438"/>
<polyline points="231.0,562.0 248.6,520.8 272.6,524.9 321.1,525.5 370.5,526.0 466.3,527.0" fill="none" stroke="#6aa050" stroke-width="1.4" stroke-linejoin="round"/>
<polygon points="231.0,560.2 232.6,563.2 229.4,563.2" fill="#5a8a48"/>
<polygon points="248.6,519.0 250.2,522.0 247.0,522.0" fill="#5a8a48"/>
<polygon points="272.6,523.1 274.2,526.1 271.0,526.1" fill="#5a8a48"/>
<polygon points="321.1,523.7 322.7,526.7 319.5,526.7" fill="#5a8a48"/>
<polygon points="370.5,524.2 372.1,527.2 368.9,527.2" fill="#5a8a48"/>
<polygon points="466.3,525.2 467.9,528.2 464.7,528.2" fill="#5a8a48"/>
<polyline points="231.0,559.8 248.6,520.8 272.6,525.1 321.1,529.3 370.5,528.8 466.3,526.3" fill="none" stroke="#9ab4c8" stroke-width="1.4" stroke-linejoin="round"/>
<polygon points="231.0,557.7 232.8,561.1 229.2,561.1" fill="#111"/>
<polygon points="248.6,518.7 250.4,522.1 246.8,522.1" fill="#111"/>
<polygon points="272.6,523.0 274.4,526.5 270.8,526.5" fill="#111"/>
<polygon points="321.1,527.2 322.9,530.6 319.3,530.6" fill="#111"/>
<polygon points="370.5,526.7 372.3,530.1 368.7,530.1" fill="#111"/>
<polygon points="466.3,524.2 468.1,527.6 464.5,527.6" fill="#111"/>
<polyline points="231.0,562.0 248.6,512.0 272.6,518.1 321.1,519.2 370.5,513.5 466.3,517.0" fill="none" stroke="#e09858" stroke-width="1.4" stroke-linejoin="round"/>
<polygon points="231.0,560.1 232.6,562.0 231.0,563.9 229.4,562.0" fill="#c08040"/>
<polygon points="248.6,510.1 250.2,512.0 248.6,513.9 247.0,512.0" fill="#c08040"/>
<polygon points="272.6,516.2 274.2,518.1 272.6,520.0 271.0,518.1" fill="#c08040"/>
<polygon points="321.1,517.3 322.7,519.2 321.1,521.1 319.5,519.2" fill="#c08040"/>
<polygon points="370.5,511.6 372.1,513.5 370.5,515.4 368.9,513.5" fill="#c08040"/>
<polygon points="466.3,515.1 467.9,517.0 466.3,518.9 464.7,517.0" fill="#c08040"/>
<polyline points="231.0,569.4 248.6,506.9 272.6,509.0 321.1,514.0 370.5,517.0 466.3,521.2" fill="none" stroke="#3a2658" stroke-width="1.4" stroke-linejoin="round"/>
<polygon points="231.0,571.5 232.8,568.0 229.2,568.0" fill="#2e1e48"/>
<polygon points="248.6,509.0 250.4,505.5 246.8,505.5" fill="#2e1e48"/>
<polygon points="272.6,511.1 274.4,507.6 270.8,507.6" fill="#2e1e48"/>
<polygon points="321.1,516.1 322.9,512.6 319.3,512.6" fill="#2e1e48"/>
<polygon points="370.5,519.1 372.3,515.6 368.7,515.6" fill="#2e1e48"/>
<polygon points="466.3,523.3 468.1,519.9 464.5,519.9" fill="#2e1e48"/>
<polyline points="231.0,557.8 248.6,509.6 272.6,509.6 321.1,513.9 370.5,517.0 466.3,521.2" fill="none" stroke="#a02870" stroke-width="1.4" stroke-linejoin="round"/>
<circle cx="231.0" cy="557.8" r="1.8" fill="#5a1440"/>
<circle cx="248.6" cy="509.6" r="1.8" fill="#5a1440"/>
<circle cx="272.6" cy="509.6" r="1.8" fill="#5a1440"/>
<circle cx="321.1" cy="513.9" r="1.8" fill="#5a1440"/>
<circle cx="370.5" cy="517.0" r="1.8" fill="#5a1440"/>
<circle cx="466.3" cy="521.2" r="1.8" fill="#5a1440"/>
<polyline points="231.0,565.4 248.6,512.8 272.6,512.8 321.1,514.9 370.5,514.0 466.3,513.5" fill="none" stroke="#e8b050" stroke-width="1.4" stroke-linejoin="round"/>
<rect x="229.5" y="563.9" width="3.0" height="3.0" fill="#e8cc98" stroke="#2a1a08" stroke-width="0.9"/>
<rect x="247.1" y="511.3" width="3.0" height="3.0" fill="#e8cc98" stroke="#2a1a08" stroke-width="0.9"/>
<rect x="271.1" y="511.3" width="3.0" height="3.0" fill="#e8cc98" stroke="#2a1a08" stroke-width="0.9"/>
<rect x="319.6" y="513.4" width="3.0" height="3.0" fill="#e8cc98" stroke="#2a1a08" stroke-width="0.9"/>
<rect x="369.0" y="512.5" width="3.0" height="3.0" fill="#e8cc98" stroke="#2a1a08" stroke-width="0.9"/>
<rect x="464.8" y="512.0" width="3.0" height="3.0" fill="#e8cc98" stroke="#2a1a08" stroke-width="0.9"/>
<circle cx="274.8" cy="573.3" r="1.8" fill="#264878"/>
<text x="280.8" y="576.0999999999999" font-size="7.8" text-anchor="start" font-weight="normal" fill="#222" >Env</text>
<rect x="273.0" y="580.5" width="3.6" height="3.6" fill="#a01438"/>
<text x="280.8" y="585.0999999999999" font-size="7.8" text-anchor="start" font-weight="normal" fill="#222" >Env + alum</text>
<polygon points="274.8,589.8 276.6,593.2 273.0,593.2" fill="#6a9a58"/>
<text x="280.8" y="594.6999999999999" font-size="7.8" text-anchor="start" font-weight="normal" fill="#222" >Env + alum / TLR4</text>
<polygon points="274.8,603.2 276.6,599.8 273.0,599.8" fill="#2e1e48"/>
<text x="280.8" y="603.9" font-size="7.8" text-anchor="start" font-weight="normal" fill="#222" >Env + alum / TLR7</text>
<circle cx="371.8" cy="572.3" r="2.1" fill="#c89050"/>
<text x="377.8" y="575.0999999999999" font-size="7.8" text-anchor="start" font-weight="normal" fill="#222" >Env + MF59</text>
<circle cx="371.8" cy="581.6" r="2.1" fill="#4a1440"/>
<text x="377.8" y="584.4" font-size="7.8" text-anchor="start" font-weight="normal" fill="#222" >Env + ANE / TLR4</text>
<rect x="370.2" y="589.2" width="3.2" height="3.2" fill="#e8cc98" stroke="#2a1a08" stroke-width="1.0"/>
<text x="377.8" y="593.5999999999999" font-size="7.8" text-anchor="start" font-weight="normal" fill="#222" >Env + ANE / TLR7</text>
<polygon points="371.8,597.6 373.9,601.6 369.7,601.6" fill="#111"/>
<text x="377.8" y="602.8" font-size="7.8" text-anchor="start" font-weight="normal" fill="#222" >Env + pIC:LC</text>
</svg></body></html>
